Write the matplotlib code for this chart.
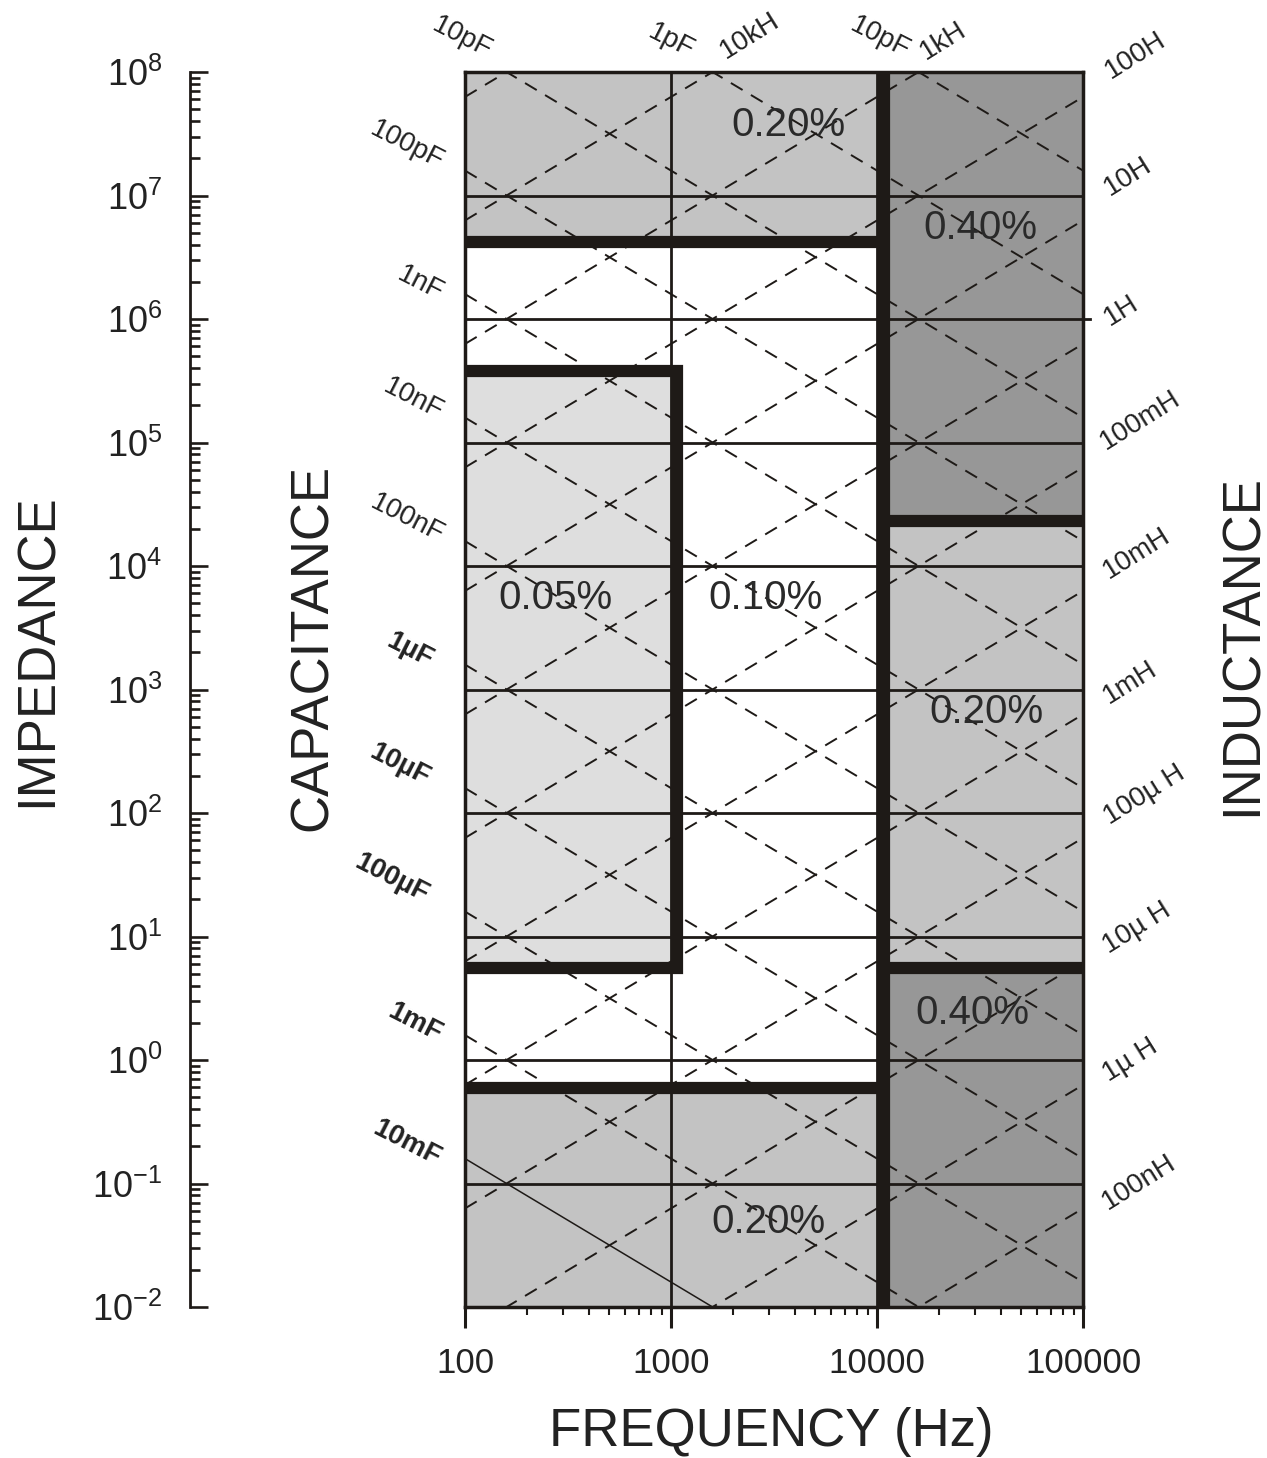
import numpy as np
import matplotlib
matplotlib.use('Agg')
import matplotlib.pyplot as plt
from matplotlib.ticker import LogLocator, FixedLocator, FixedFormatter, NullFormatter
from matplotlib.patches import Rectangle

plt.rcParams['font.family'] = ['Liberation Sans', 'DejaVu Sans']
plt.rcParams['mathtext.fontset'] = 'custom'
plt.rcParams['mathtext.rm'] = 'Liberation Sans'
plt.rcParams['mathtext.it'] = 'Liberation Sans:italic'
plt.rcParams['mathtext.bf'] = 'Liberation Sans:bold'

# ---------------- data ----------------
freq_ticks = [100, 1000, 10000, 100000]
freq_tick_labels = ['100', '1000', '10000', '100000']
imp_exponents = [-2, -1, 0, 1, 2, 3, 4, 5, 6, 7, 8]

# reactance lines (capacitance in F, inductance in H)
cap_values = [1e-13, 1e-12, 1e-11, 1e-10, 1e-9, 1e-8, 1e-7, 1e-6, 1e-5, 1e-4, 1e-3, 1e-2]
cap_solid = [False] * 11 + [True]
ind_values = [1e-7, 1e-6, 1e-5, 1e-4, 1e-3, 1e-2, 1e-1, 1e0, 1e1, 1e2, 1e3, 1e4, 1e5]

# accuracy zones
f_split = 10770      # thick vertical boundary (Hz)
f_box = 1070         # right edge of 0.05% box
z_top_band = 4.2e6
z_box_top = 3.8e5
z_box_bot = 5.6
z_bot_band = 0.59
z_right_hi = 2.3e4
z_right_lo = 5.6

zone_f_lo = [100, f_split, f_split, f_split, 100, 100]
zone_f_hi = [f_split, 1e5, 1e5, 1e5, f_split, f_box]
zone_z_lo = [z_top_band, z_right_hi, z_right_lo, 1e-2, 1e-2, z_box_bot]
zone_z_hi = [1e8, 1e8, z_right_hi, z_right_lo, z_bot_band, z_box_top]
zone_shade = ['mid', 'dark', 'mid', 'dark', 'mid', 'light']

acc_labels = ['0.20%', '0.40%', '0.05%', '0.10%', '0.20%', '0.40%', '0.20%']
acc_f = [3700, 31600, 274, 2860, 33800, 28900, 2960]
acc_z = [3.7e7, 5.5e6, 5500, 5500, 658, 2.4, 0.049]

cap_labels = ['10pF', '1pF', '10pF', '100pF', '1nF', '10nF', '100nF',
              '1µF', '10µF', '100µF', '1mF', '10mF']
cap_bold = [False] * 7 + [True] * 5
cap_lab_px = [(462, 38), (671, 41), (880, 38), (407, 145), (420, 284), (413, 399),
              (407, 519), (410, 650), (400, 765), (392, 878), (415, 1023), (407, 1143)]
ind_labels = ['10kH', '1kH', '100H', '10H', '1H', '100mH', '10mH', '1mH',
              '100µ H', '10µ H', '1µ H', '100nH']
ind_lab_px = [(750, 36), (943, 41), (1135, 55), (1128, 177), (1121, 311), (1140, 420),
              (1137, 553), (1130, 683), (1144, 795), (1137, 928), (1130, 1060), (1139, 1182)]

# ---------------- style ----------------
W, H = 1267, 1458
ink = '#1e1a17'
shades = {'mid': '#c3c3c3', 'dark': '#979797', 'light': '#dedede'}

fig = plt.figure(figsize=(W / 100, H / 100), dpi=100)
ax = fig.add_axes([465 / W, 1 - 1307 / H, 618 / W, 1235 / H])
ax.set_xscale('log')
ax.set_yscale('log')
ax.set_xlim(100, 1e5)
ax.set_ylim(1e-2, 1e8)

# zones
for flo, fhi, zlo, zhi, sh in zip(zone_f_lo, zone_f_hi, zone_z_lo, zone_z_hi, zone_shade):
    ax.add_patch(Rectangle((flo, zlo), fhi - flo, zhi - zlo, facecolor=shades[sh],
                           edgecolor='none', zorder=1))

# reactance lines
f = np.logspace(2, 5, 400)
for C, solid in zip(cap_values, cap_solid):
    if solid:
        ax.plot(f, 1 / (2 * np.pi * f * C), color=ink, lw=1.1, zorder=2)
    else:
        ax.plot(f, 1 / (2 * np.pi * f * C), color=ink, lw=1.4,
                linestyle=(0, (7, 5)), zorder=2)
for L in ind_values:
    ax.plot(f, 2 * np.pi * f * L, color=ink, lw=1.4, linestyle=(0, (7, 5)), zorder=2)

# grid lines
for e in imp_exponents[1:-1]:
    fhi = 1e5 * 10 ** (7 / 206) if e == 6 else 1e5
    ax.plot([100, fhi], [10.0 ** e] * 2, color=ink, lw=2.0, zorder=3, clip_on=(e != 6))
for fv in freq_ticks[1:-1]:
    ax.plot([fv, fv], [1e-2, 1e8], color=ink, lw=2.0, zorder=3)
ax.axvline(100, color=ink, lw=2.5, zorder=6, clip_on=False)

# thick boundaries
tk = dict(color=ink, lw=8.8, zorder=5, solid_capstyle='butt', solid_joinstyle='miter')
ax.plot([100, f_split], [z_top_band] * 2, **tk)
ax.plot([f_split, f_split], [1e-2, 1e8], **tk)
ax.plot([100, f_box, f_box, 100], [z_box_top, z_box_top, z_box_bot, z_box_bot], **tk)
ax.plot([100, f_split], [z_bot_band] * 2, **tk)
ax.plot([f_split, 1e5], [z_right_hi] * 2, **tk)
ax.plot([f_split, 1e5], [z_right_lo] * 2, **tk)

# accuracy labels
for t, fx, zy in zip(acc_labels, acc_f, acc_z):
    ax.text(fx, zy, t, fontsize=29, color='#2a2a2a', ha='center', va='center', zorder=7)

# spines / ticks
for s in ['top', 'right', 'bottom', 'left']:
    ax.spines[s].set_color(ink)
    ax.spines[s].set_linewidth(2.5)
    ax.spines[s].set_zorder(6)
ax.spines['left'].set_position(('outward', 198))
ax.spines['left'].set_linewidth(2.0)

ax.yaxis.set_major_locator(FixedLocator([10.0 ** e for e in imp_exponents]))
ax.yaxis.set_major_formatter(FixedFormatter([r'$10^{%d}$' % e for e in imp_exponents]))
ax.yaxis.set_minor_locator(LogLocator(base=10, subs=np.arange(2, 10), numticks=100))
ax.yaxis.set_minor_formatter(NullFormatter())
ax.tick_params(axis='y', which='major', direction='in', length=13, width=1.9,
               pad=20, labelsize=26, colors=ink, labelcolor='#222222')
ax.tick_params(axis='y', which='minor', direction='in', length=7.5, width=1.9, colors=ink)

ax.xaxis.set_major_locator(FixedLocator(freq_ticks))
ax.xaxis.set_major_formatter(FixedFormatter(freq_tick_labels))
ax.xaxis.set_minor_locator(LogLocator(base=10, subs=np.arange(2, 10), numticks=100))
ax.xaxis.set_minor_formatter(NullFormatter())
ax.tick_params(axis='x', which='major', direction='out', length=15, width=2.2,
               pad=14, labelsize=25, colors=ink, labelcolor='#222222')
ax.tick_params(axis='x', which='minor', direction='out', length=5.5, width=1.5, colors=ink)

# reactance labels
for t, (px, py), b in zip(cap_labels, cap_lab_px, cap_bold):
    fig.text(px / W, 1 - py / H, t, rotation=-27, fontsize=20, ha='center', va='center',
             rotation_mode='anchor', fontweight='bold' if b else 'normal', color='#222222')
for t, (px, py) in zip(ind_labels, ind_lab_px):
    fig.text(px / W, 1 - py / H, t, rotation=32, fontsize=20, ha='center', va='center',
             rotation_mode='anchor', color='#222222')

# axis titles
fig.text(38 / W, 1 - 650 / H, 'IMPEDANCE', rotation=90, fontsize=38, ha='center', va='center', color='#222222')
fig.text(313 / W, 1 - 647 / H, 'CAPACITANCE', rotation=90, fontsize=38, ha='center', va='center', color='#222222')
fig.text(1243 / W, 1 - 645 / H, 'INDUCTANCE', rotation=90, fontsize=38, ha='center', va='center', color='#222222')
fig.text(771 / W, 1 - 1432 / H, 'FREQUENCY (Hz)', fontsize=38, ha='center', va='center', color='#222222')

fig.savefig('out.png', dpi=100)
